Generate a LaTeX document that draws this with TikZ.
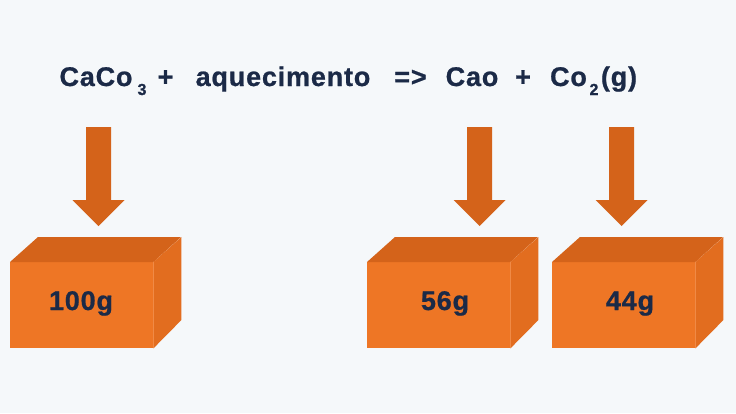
\documentclass[tikz,border=0pt]{standalone}
\usepackage{fontspec}
\setmainfont{Liberation Sans}[LetterSpace=3,BoldFeatures={FakeBold=0.8}]
\begin{document}
\begin{tikzpicture}[x=1pt,y=-1pt,
  txt/.style={text=navy,font=\fontsize{27}{29}\selectfont\bfseries,inner sep=0pt,anchor=base},
  subs/.style={text=navy,font=\fontsize{16}{18}\selectfont\bfseries,inner sep=0pt,anchor=base},
  lbl/.style={text=navy,font=\fontsize{27}{29}\selectfont\bfseries,inner sep=0pt,anchor=base},
  front/.style={fill=frontc,draw=none,inner sep=0pt,minimum width=143pt,minimum height=86pt},
  topface/.style={fill=topc},
  sideface/.style={fill=sidec},
  darrow/.style={fill=topc}]
\definecolor{navy}{HTML}{1B2A47}
\definecolor{bg}{HTML}{F5F8FA}
\definecolor{frontc}{HTML}{EE7625}
\definecolor{topc}{HTML}{D4631A}
\definecolor{sidec}{HTML}{E26D1F}
\fill[bg] (0,0) rectangle (736,413);
\useasboundingbox (0,0) rectangle (736,413);
% equation
\node[txt] (t1) at (96,86) {CaCo};
\node[subs] (t1s) at (142,95) {3};
\node[txt] (t2) at (165.5,86) {+};
\node[txt] (t3) at (283,86) {aquecimento};
\node[txt] (t4) at (410.5,86) {=>};
\node[txt] (t5) at (472,86) {Cao};
\node[txt] (t6) at (523,86) {+};
\node[txt] (t7) at (568.5,86) {Co};
\node[subs] (t7s) at (594,95) {2};
\node[txt] (t8) at (619,86) {(g)};
% boxes
\foreach \n/\xl in {b1/10,b2/367,b3/552}{
  \node[front,anchor=north west] (\n) at (\xl,262) {};
  \fill[topface] (\n.north west) -- ++(28,-25) -- ++(143,0) -- (\n.north east) -- cycle;
  \fill[sideface] (\n.north east) -- ++(28,-25) -- ++(0,83) -- (\n.south east) -- cycle;
  \draw[frontc!85!white,line width=0.6pt] (\n.north east) -- (\n.south east);
}
\node[lbl] (l1) at (81,310) {100g};
\node[lbl] (l2) at (445,310) {56g};
\node[lbl] (l3) at (630,310) {44g};
% arrows
\foreach \cx in {98.5,479.5,621.5}{
  \fill[darrow] (\cx-12.5,127) -- (\cx+12.5,127) -- (\cx+12.5,200) -- (\cx+26,200)
    -- (\cx,226) -- (\cx-26,200) -- (\cx-12.5,200) -- cycle;
}
\end{tikzpicture}
\end{document}
